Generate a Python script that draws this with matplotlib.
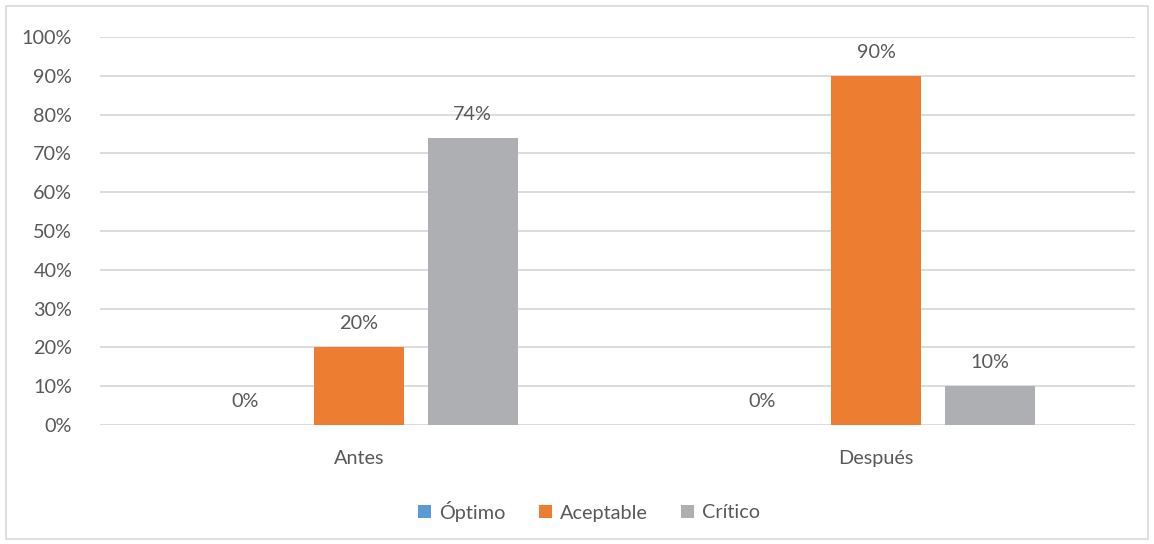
import matplotlib
matplotlib.use("Agg")
import matplotlib.pyplot as plt
from matplotlib.patches import Rectangle
import numpy as np

categories = ["Antes", "Después"]
series_names = ["Óptimo", "Aceptable", "Crítico"]
optimo = [0, 0]
aceptable = [20, 90]
critico = [74, 10]
yticks = [0, 10, 20, 30, 40, 50, 60, 70, 80, 90, 100]

colors = ["#5B9BD5", "#ED7D31", "#AEAFB3"]
text_color = "#595959"

plt.rcParams['font.family'] = ['Lato', 'DejaVu Sans']

W, H = 1154, 544
fig = plt.figure(figsize=(W / 100, H / 100), dpi=100)
ax = fig.add_axes([100 / W, 1 - 425 / H, (1135 - 100) / W, (425 - 37) / H])

fs = 14.3
x = np.arange(len(categories))
width = 90 / 517.5
offset = 114 / 517.5
for i, (vals, name) in enumerate(zip([optimo, aceptable, critico], series_names)):
    pos = x + (i - 1) * offset
    ax.bar(pos, vals, width=width, color=colors[i], label=name, zorder=3)
    for p, v in zip(pos, vals):
        ax.annotate(f"{v}%", (p, v), xytext=(0, 15), textcoords="offset pixels",
                    ha="center", va="bottom", fontsize=fs, color=text_color)

ax.set_xlim(-0.5, 1.5)
ax.set_ylim(0, 100)
ax.set_yticks(yticks)
ax.set_yticklabels([f"{t}%" for t in yticks])
ax.set_xticks(x)
ax.set_xticklabels(categories)
ax.tick_params(axis="both", length=0, labelsize=fs, colors=text_color)
ax.tick_params(axis="y", pad=20)
ax.tick_params(axis="x", pad=18)
ax.grid(axis="y", color="#D9D9D9", linewidth=1.3, zorder=0)
for s in ax.spines.values():
    s.set_visible(False)

leg = ax.legend(loc="center", bbox_to_anchor=(589 / W, 1 - 511 / H),
                bbox_transform=fig.transFigure, ncol=3, frameon=False,
                fontsize=fs, handlelength=0.65, handleheight=0.65,
                handletextpad=0.4, columnspacing=1.7)
for t in leg.get_texts():
    t.set_color(text_color)

fig.patches.append(Rectangle((6 / W, 5 / H), (1148 - 6) / W, (538 - 5) / H,
                             transform=fig.transFigure, fill=False,
                             edgecolor="#D9D9D9", linewidth=1.2))

fig.savefig("out.png", dpi=100)
